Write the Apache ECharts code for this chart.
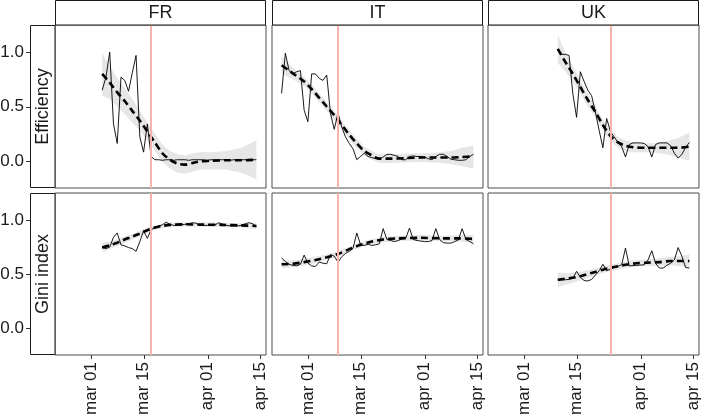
<!DOCTYPE html>
<html>
<head>
<meta charset="utf-8">
<script src="https://cdn.jsdelivr.net/npm/echarts@6/dist/echarts.min.js"></script>
<style>
  html, body { margin: 0; padding: 0; background: #fff; }
  #chart { width: 709px; height: 416px; }
</style>
</head>
<body>
<div id="chart"></div>
<script>
// ---------- data (x = days since 1 March 2020) ----------
const countries = ['FR', 'IT', 'UK'];
const metrics = ['Efficiency', 'Gini index'];
const tickDays = [0, 14, 31, 45];
const tickLabels = ['mar 01', 'mar 15', 'apr 01', 'apr 15'];
const yTicks = [0, 0.5, 1];
const lockdownDays = [16, 8, 23];   // FR, IT, UK

// raw daily series: first day + values
const frEffStart = 3;
const frEff = [0.65,0.77,1.0,0.34,0.16,0.77,0.74,0.64,0.81,0.97,0.22,0.08,0.34,0.04,0.01,
  0.01,0.005,0.01,0.01,0.005,0.01,0.01,0.01,0.005,0.01,0.01,0.01,0.01,0.005,0.01,0.01,0.01,0.01,0.01,0.005,0.01,0.01,0.01,0.01,0.01,0.01,0.01];
const itEffStart = -7;
const itEff = [0.62,0.99,0.83,0.80,0.82,0.83,0.465,0.36,0.80,0.80,0.76,0.74,0.79,0.435,0.29,0.44,0.31,0.22,0.16,0.11,0.01,0.04,
  0.07,0.04,0.03,0.02,0.015,0.035,0.06,0.06,0.05,0.04,0.01,0.01,0.04,0.045,0.04,0.04,0.035,0.02,0.01,0.04,0.06,0.06,0.04,0.015,0.01,0.005,0.005,0.01,0.04,0.06];
const ukEffStart = 9;
const ukEff = [1.02,0.98,0.98,0.97,0.62,0.40,0.82,0.73,0.65,0.60,0.45,0.28,0.12,0.39,0.27,0.22,0.17,0.13,0.035,0.15,0.165,0.165,0.165,0.16,0.13,0.035,0.15,0.165,0.165,0.165,0.14,0.07,0.025,0.06,0.125,0.17];

const frGiniStart = 3;
const frGini = [0.745,0.735,0.75,0.84,0.88,0.77,0.76,0.745,0.735,0.71,0.80,0.90,0.83,0.91,0.93,0.945,0.955,0.98,0.96,0.95,0.95,0.955,0.96,0.965,0.975,0.97,0.95,0.95,0.95,0.955,0.955,0.975,0.96,0.95,0.945,0.945,0.945,0.95,0.965,0.975,0.965,0.94];
const itGiniStart = -7;
const itGini = [0.65,0.615,0.59,0.58,0.575,0.59,0.675,0.60,0.575,0.57,0.61,0.60,0.595,0.68,0.665,0.61,0.66,0.69,0.71,0.74,0.88,0.77,0.765,0.775,0.765,0.77,0.78,0.92,0.82,0.81,0.80,0.81,0.825,0.83,0.925,0.82,0.81,0.805,0.80,0.80,0.81,0.92,0.82,0.79,0.786,0.786,0.80,0.815,0.92,0.82,0.80,0.78];
const ukGiniStart = 9;
const ukGini = [0.447,0.45,0.447,0.45,0.46,0.525,0.47,0.44,0.435,0.45,0.49,0.53,0.59,0.53,0.545,0.56,0.57,0.585,0.74,0.575,0.578,0.58,0.583,0.585,0.63,0.715,0.60,0.555,0.555,0.58,0.60,0.63,0.745,0.665,0.56,0.555];

// smoothed fits with confidence band
const frEffFitDays = [3,5,7,9,11,13,15,17,19,21,23,25,27,29,32,36,40,44];
const frEffFit = [0.80,0.72,0.63,0.55,0.46,0.37,0.27,0.17,0.07,0.01,-0.025,-0.035,-0.02,-0.005,0.0,0.005,0.005,0.01];
const frEffLo  = [0.60,0.57,0.50,0.43,0.35,0.28,0.19,0.09,-0.01,-0.07,-0.11,-0.12,-0.10,-0.08,-0.08,-0.08,-0.11,-0.17];
const frEffHi  = [0.99,0.87,0.76,0.67,0.57,0.46,0.35,0.25,0.15,0.09,0.06,0.05,0.07,0.08,0.08,0.09,0.12,0.19];

const itEffFitDays = [-7,-5,-3,-1,1,3,5,7,9,11,13,15,17,19,22,26,30,34,38,41,44];
const itEffFit = [0.88,0.83,0.78,0.73,0.66,0.58,0.50,0.42,0.33,0.24,0.16,0.09,0.05,0.02,0.02,0.025,0.03,0.03,0.03,0.035,0.04];
const itEffLo  = [0.80,0.77,0.73,0.69,0.62,0.54,0.46,0.38,0.29,0.20,0.12,0.05,0.01,-0.02,-0.02,-0.015,-0.01,-0.015,-0.03,-0.05,-0.07];
const itEffHi  = [0.96,0.89,0.83,0.77,0.70,0.62,0.54,0.46,0.37,0.28,0.20,0.13,0.09,0.06,0.06,0.065,0.07,0.075,0.09,0.12,0.14];

const ukEffFitDays = [9,11,13,15,17,19,21,23,25,27,29,32,35,38,41,44];
const ukEffFit = [1.03,0.91,0.80,0.68,0.56,0.45,0.33,0.23,0.17,0.14,0.125,0.12,0.12,0.12,0.12,0.13];
const ukEffLo  = [0.90,0.82,0.73,0.62,0.50,0.40,0.28,0.18,0.12,0.09,0.08,0.08,0.075,0.06,0.03,0.0];
const ukEffHi  = [1.16,1.00,0.87,0.74,0.62,0.50,0.38,0.28,0.22,0.19,0.17,0.16,0.165,0.18,0.21,0.26];

const frGiniFitDays = [3,5,7,9,11,13,15,17,19,21,25,30,35,40,44];
const frGiniFit = [0.745,0.765,0.79,0.82,0.845,0.875,0.905,0.93,0.945,0.955,0.96,0.957,0.955,0.95,0.945];
const frGiniLo  = [0.70,0.73,0.76,0.79,0.82,0.85,0.88,0.91,0.925,0.935,0.94,0.937,0.935,0.93,0.915];
const frGiniHi  = [0.79,0.80,0.82,0.85,0.87,0.90,0.93,0.95,0.965,0.975,0.98,0.977,0.975,0.97,0.975];

const itGiniFitDays = [-7,-4,-1,2,5,8,11,14,17,20,24,30,36,40,44];
const itGiniFit = [0.59,0.595,0.61,0.63,0.655,0.685,0.73,0.77,0.80,0.82,0.83,0.835,0.83,0.83,0.825];
const itGiniLo  = [0.55,0.565,0.58,0.60,0.63,0.66,0.705,0.745,0.775,0.795,0.805,0.81,0.805,0.80,0.79];
const itGiniHi  = [0.63,0.625,0.64,0.66,0.68,0.71,0.755,0.795,0.825,0.845,0.855,0.86,0.855,0.86,0.86];

const ukGiniFitDays = [9,12,15,18,21,24,27,30,33,36,39,42,44];
const ukGiniFit = [0.447,0.46,0.48,0.51,0.54,0.565,0.585,0.60,0.605,0.61,0.62,0.62,0.62];
const ukGiniLo  = [0.38,0.41,0.44,0.475,0.51,0.535,0.555,0.57,0.575,0.575,0.58,0.57,0.555];
const ukGiniHi  = [0.515,0.51,0.52,0.545,0.57,0.595,0.615,0.63,0.635,0.645,0.66,0.67,0.685];

// ---------- layout / style ----------
const X_MIN = -9.55, X_MAX = 46.55, Y_MIN = -0.25, Y_MAX = 1.25;
const colLeft = [55, 272, 488];
const colWidth = 211;
const rowTop = [25, 193];
const rowHeight = [163, 162];
const FONT = '"Liberation Sans", Arial, Helvetica, sans-serif';
const TICK_COLOR = '#333';

const panels = [
  { start: frEffStart, raw: frEff, fd: frEffFitDays, fit: frEffFit, lo: frEffLo, hi: frEffHi },
  { start: itEffStart, raw: itEff, fd: itEffFitDays, fit: itEffFit, lo: itEffLo, hi: itEffHi },
  { start: ukEffStart, raw: ukEff, fd: ukEffFitDays, fit: ukEffFit, lo: ukEffLo, hi: ukEffHi },
  { start: frGiniStart, raw: frGini, fd: frGiniFitDays, fit: frGiniFit, lo: frGiniLo, hi: frGiniHi },
  { start: itGiniStart, raw: itGini, fd: itGiniFitDays, fit: itGiniFit, lo: itGiniLo, hi: itGiniHi },
  { start: ukGiniStart, raw: ukGini, fd: ukGiniFitDays, fit: ukGiniFit, lo: ukGiniLo, hi: ukGiniHi }
];

const grid = [], xAxis = [], yAxis = [], series = [], graphic = [];

for (let row = 0; row < 2; row++) {
  for (let col = 0; col < 3; col++) {
    const gi = row * 3 + col;
    const p = panels[gi];
    grid.push({
      left: colLeft[col], top: rowTop[row], width: colWidth, height: rowHeight[row],
      containLabel: false, outerBoundsMode: 'none',
      show: true, borderColor: '#4d4d4d', borderWidth: 1, backgroundColor: '#fff'
    });
    xAxis.push({
      gridIndex: gi, type: 'value', min: X_MIN, max: X_MAX,
      splitLine: { show: false }, axisLine: { show: false }, axisTick: { show: false },
      axisLabel: {
        show: row === 1, customValues: tickDays, rotate: 90, margin: 7,
        fontSize: 17, fontFamily: FONT, color: '#1a1a1a',
        formatter: v => tickLabels[tickDays.indexOf(v)]
      }
    });
    yAxis.push({
      gridIndex: gi, type: 'value', min: Y_MIN, max: Y_MAX,
      splitLine: { show: false }, axisLine: { show: false }, axisTick: { show: false },
      axisLabel: {
        show: col === 0, customValues: yTicks, margin: 31,
        fontSize: 17, fontFamily: FONT, color: '#1a1a1a',
        formatter: v => v.toFixed(1)
      }
    });

    const fd = p.fd, lo = p.lo, hi = p.hi;
    // confidence ribbon
    series.push({
      type: 'custom', xAxisIndex: gi, yAxisIndex: gi, silent: true, z: 1,
      data: fd.map((d, i) => [d, lo[i], hi[i]]),
      encode: { x: 0, y: [1, 2] },
      renderItem: function (params, api) {
        if (params.dataIndex !== 0) return null;
        const pts = [];
        for (let i = 0; i < fd.length; i++) pts.push(api.coord([fd[i], hi[i]]));
        for (let i = fd.length - 1; i >= 0; i--) pts.push(api.coord([fd[i], lo[i]]));
        return { type: 'polygon', shape: { points: pts }, style: { fill: '#e6e6e6' } };
      }
    });
    // lockdown line
    series.push({
      type: 'line', xAxisIndex: gi, yAxisIndex: gi, z: 2, silent: true,
      data: [], symbol: 'none',
      markLine: {
        silent: true, symbol: ['none', 'none'], label: { show: false },
        lineStyle: { color: '#f7b3ad', width: 2, type: 'solid' },
        data: [{ xAxis: lockdownDays[col] }]
      }
    });
    // raw daily values
    series.push({
      type: 'line', xAxisIndex: gi, yAxisIndex: gi, z: 3, silent: true,
      data: p.raw.map((v, i) => [p.start + i, v]),
      symbol: 'none', lineStyle: { color: '#000', width: 0.9 }
    });
    // smoothed fit
    series.push({
      type: 'line', xAxisIndex: gi, yAxisIndex: gi, z: 4, silent: true,
      data: fd.map((d, i) => [d, p.fit[i]]),
      symbol: 'none', smooth: 0.3,
      lineStyle: { color: '#000', width: 2.6, type: [7, 4] }
    });
    // axis tick marks (placed through the axis scales)
    if (row === 1) {
      series.push({
        type: 'custom', xAxisIndex: gi, yAxisIndex: gi, silent: true, clip: false, z: 5,
        data: tickDays.map(d => [d, Y_MIN]),
        encode: { x: 0, y: 1 },
        renderItem: function (params, api) {
          const c = api.coord([api.value(0), api.value(1)]);
          const x = Math.round(c[0]) + 0.5;
          return { type: 'line', shape: { x1: x, y1: c[1], x2: x, y2: c[1] + 4 }, style: { stroke: TICK_COLOR, lineWidth: 1 } };
        }
      });
    }
    if (col === 0) {
      series.push({
        type: 'custom', xAxisIndex: gi, yAxisIndex: gi, silent: true, clip: false, z: 5,
        data: yTicks.map(v => [X_MIN, v]),
        encode: { x: 0, y: 1 },
        renderItem: function (params, api) {
          const c = api.coord([api.value(0), api.value(1)]);
          const y = Math.round(c[1]) + 0.5;
          return { type: 'line', shape: { x1: c[0] - 29, y1: y, x2: c[0] - 25, y2: y }, style: { stroke: TICK_COLOR, lineWidth: 1 } };
        }
      });
    }
  }
}

// strips
for (let col = 0; col < 3; col++) {
  graphic.push({
    type: 'rect', silent: true, z: 10,
    shape: { x: colLeft[col] + 0.5, y: 0.5, width: colWidth - 1, height: rowTop[0] - 0.5 },
    style: { fill: '#fff', stroke: '#1a1a1a', lineWidth: 1 }
  });
  graphic.push({
    type: 'text', silent: true, z: 11,
    x: colLeft[col] + colWidth / 2, y: rowTop[0] / 2 + 0.5,
    style: { text: countries[col], fontSize: 18, fontFamily: FONT, fill: '#1a1a1a', align: 'center', verticalAlign: 'middle' }
  });
}
for (let row = 0; row < 2; row++) {
  graphic.push({
    type: 'rect', silent: true, z: 10,
    shape: { x: 30.5, y: rowTop[row] + 0.5, width: 24.5, height: rowHeight[row] - 1 },
    style: { fill: '#fff', stroke: '#1a1a1a', lineWidth: 1 }
  });
  graphic.push({
    type: 'text', silent: true, z: 11,
    x: 43, y: rowTop[row] + rowHeight[row] / 2, rotation: Math.PI / 2,
    style: { text: metrics[row], fontSize: 18, fontFamily: FONT, fill: '#1a1a1a', align: 'center', verticalAlign: 'middle' }
  });
}

const chart = echarts.init(document.getElementById('chart'), null, { renderer: 'canvas' });
chart.setOption({
  animation: false,
  backgroundColor: '#fff',
  grid, xAxis, yAxis, series, graphic
});
</script>
</body>
</html>
